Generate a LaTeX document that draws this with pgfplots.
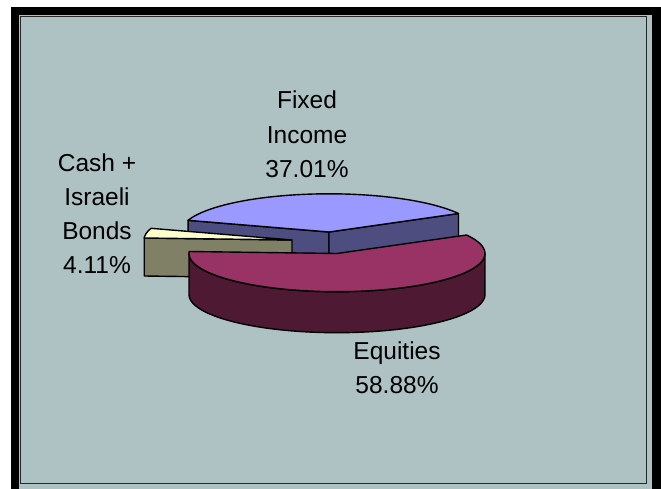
\documentclass[border=0pt]{standalone}
\usepackage{fontspec}
\setmainfont{Liberation Sans}
\usepackage{pgfplots}
\pgfplotsset{compat=1.18}
\definecolor{bg}{RGB}{174,194,195}
\definecolor{frameln}{RGB}{40,40,40}
\definecolor{fiTop}{RGB}{153,153,255}
\definecolor{fiSide}{RGB}{77,77,128}
\definecolor{eqTop}{RGB}{153,51,102}
\definecolor{eqSide}{RGB}{77,25,51}
\definecolor{caTop}{RGB}{255,255,204}
\definecolor{caSide}{RGB}{128,128,102}
\begin{document}
\begin{tikzpicture}
% ---- data (percent) ----
\def\pEq{58.88}\def\pFi{37.01}\def\pCa{4.11}
% ---- angles from the data ----
\pgfmathsetmacro\aA{177}
\pgfmathsetmacro\aB{\aA+3.6*\pEq}
\pgfmathsetmacro\aC{\aB+3.6*\pFi}
\pgfmathsetmacro\aD{\aC+3.6*\pCa}
\def\ra{148}\def\rb{38.2}
% ---- slice centres (exploded) and depths ----
\def\eqx{337}\def\eqy{253.5}\def\eqh{41}
\def\fix{329}\def\fiy{232}\def\fih{40}
\def\cax{292}\def\cay{240}\def\cah{38}
\pgfmathsetmacro\fiBx{\fix+\ra*cos(\aB)}\pgfmathsetmacro\fiBy{\fiy-\rb*sin(\aB)}
\pgfmathsetmacro\fiCx{\fix+\ra*cos(\aC)}\pgfmathsetmacro\fiCy{\fiy-\rb*sin(\aC)}
\pgfmathsetmacro\fiBb{\fiBy+\fih}\pgfmathsetmacro\fiCb{\fiCy+\fih}
\pgfmathsetmacro\fiyb{\fiy+\fih}
\pgfmathsetmacro\caDx{\cax+\ra*cos(\aD)}\pgfmathsetmacro\caDy{\cay-\rb*sin(\aD)}
\pgfmathsetmacro\caDb{\caDy+\cah}\pgfmathsetmacro\cayb{\cay+\cah}
\tikzset{edge/.style={draw=black,line width=1.4pt,line join=round},
  lbl/.style={anchor=base,inner sep=0pt,font=\fontsize{24.5}{30}\selectfont}}
\begin{axis}[width=661pt,height=489pt,scale only axis,
  xmin=0,xmax=661,ymin=0,ymax=489,y dir=reverse,hide axis,clip=true]
% background and frames
\addplot[fill=white,draw=none] coordinates {(0,0)(661,0)(661,7)(0,7)} -- cycle;
\addplot[fill=white,draw=none] coordinates {(0,0)(11,0)(11,489)(0,489)} -- cycle;
\addplot[fill=bg,draw=none] coordinates {(18.5,14.5)(652.5,14.5)(652.5,489)(18.5,489)} -- cycle;
\addplot[fill=black,draw=none] coordinates {(11,7)(661,7)(661,15)(11,15)} -- cycle;
\addplot[fill=black,draw=none] coordinates {(11,7)(19,7)(19,489)(11,489)} -- cycle;
\addplot[fill=black,draw=none] coordinates {(652,7)(661,7)(661,489)(652,489)} -- cycle;
\addplot[draw=frameln,line width=1.3pt] coordinates {(20.7,16.7)(646.3,16.7)(646.3,483.3)(20.7,483.3)} -- cycle;
% Fixed Income (back)
\addplot[fill=fiSide,edge] coordinates {(\fix,\fiy)(\fiCx,\fiCy)(\fiCx,\fiCb)(\fix,\fiyb)} -- cycle;
\addplot[fill=fiSide,edge] coordinates {(\fix,\fiy)(\fiBx,\fiBy)(\fiBx,\fiBb)(\fix,\fiyb)} -- cycle;
\addplot[fill=fiTop,edge,domain=\aB:\aC,samples=60,variable=\t]
  ({\fix+\ra*cos(\t)},{\fiy-\rb*sin(\t)}) -- (axis cs:\fix,\fiy) -- cycle;
% Cash + Israeli Bonds
\addplot[fill=caSide,edge] coordinates {(\cax,\cay)(\caDx,\caDy)(\caDx,\caDb)(\cax,\cayb)} -- cycle;
\addplot[fill=caTop,edge,domain=\aC:\aD,samples=10,variable=\t]
  ({\cax+\ra*cos(\t)},{\cay-\rb*sin(\t)}) -- (axis cs:\cax,\cay) -- cycle;
% Equities (front)
\addplot[fill=eqSide,edge,domain=180:540,samples=181,variable=\t]
  ({\eqx+\ra*cos(\t)},{(\t<=360) ? (\eqy-\rb*sin(\t)) : (\eqy+\rb*sin(\t)+\eqh)}) -- cycle;
\addplot[fill=eqTop,edge,domain=\aA:\aB,samples=80,variable=\t]
  ({\eqx+\ra*cos(\t)},{\eqy-\rb*sin(\t)}) -- (axis cs:\eqx,\eqy) -- cycle;
% labels
\node[lbl] at (axis cs:307,109) {Fixed};
\node[lbl] at (axis cs:307,143.5) {Income};
\node[lbl] at (axis cs:307,178) {37.01\%};
\node[lbl] at (axis cs:97,171.7) {Cash +};
\node[lbl] at (axis cs:97,205.5) {Israeli};
\node[lbl] at (axis cs:97,239.5) {Bonds};
\node[lbl] at (axis cs:97,273.5) {4.11\%};
\node[lbl] at (axis cs:397,359.3) {Equities};
\node[lbl] at (axis cs:397,393.3) {58.88\%};
\end{axis}
\pgfresetboundingbox
\useasboundingbox (current axis.south west) rectangle (current axis.north east);
\end{tikzpicture}
\end{document}
